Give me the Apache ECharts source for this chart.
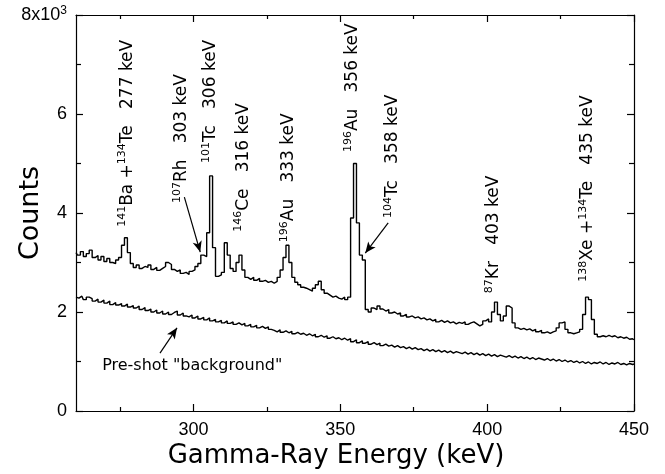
<!DOCTYPE html>
<html>
<head>
<meta charset="utf-8">
<script src="https://cdn.jsdelivr.net/npm/echarts@6/dist/echarts.min.js"></script>
<style>
  html, body { margin: 0; padding: 0; background: #fff; }
  #chart { width: 665px; height: 474px; }
</style>
</head>
<body>
<div id="chart"></div>
<script>
// spectrum channels are 1 keV wide, first channel at 260 keV
const firstChannelKeV = 260;

// counts (x10^3) after the shot
const shotCounts = [
  3.20, 3.15, 3.22, 3.12, 3.18, 3.25, 3.10, 3.14, 3.05, 3.12, // 260
  3.02, 3.08, 3.00, 2.98, 3.05, 3.10, 3.35, 3.50, 3.20, 2.98, // 270
  2.90, 2.95, 2.88, 2.92, 2.90, 2.95, 2.86, 2.90, 2.84, 2.88, // 280
  2.92, 3.00, 2.96, 2.86, 2.82, 2.85, 2.78, 2.80, 2.76, 2.82, // 290
  2.85, 2.92, 2.98, 3.15, 3.12, 3.60, 4.75, 3.30, 2.72, 2.75, // 300
  2.80, 3.40, 3.15, 2.88, 2.82, 3.00, 3.15, 2.85, 2.70, 2.66, // 310
  2.70, 2.64, 2.68, 2.62, 2.64, 2.60, 2.62, 2.58, 2.62, 2.70, // 320
  2.85, 3.10, 3.35, 3.00, 2.70, 2.60, 2.55, 2.50, 2.48, 2.45, // 330
  2.42, 2.48, 2.55, 2.62, 2.45, 2.38, 2.34, 2.30, 2.32, 2.28, // 340
  2.26, 2.30, 2.25, 2.30, 3.90, 5.00, 3.80, 3.15, 3.05, 2.05, // 350
  2.00, 2.08, 2.05, 2.12, 2.06, 2.02, 2.05, 1.98, 2.00, 1.96, // 360
  1.98, 1.92, 1.95, 1.90, 1.92, 1.88, 1.90, 1.86, 1.88, 1.84, // 370
  1.86, 1.82, 1.85, 1.80, 1.83, 1.79, 1.82, 1.78, 1.80, 1.76, // 380
  1.79, 1.77, 1.80, 1.75, 1.78, 1.80, 1.76, 1.72, 1.75, 1.82, // 390
  1.86, 1.80, 2.00, 2.20, 1.95, 1.82, 1.92, 2.12, 2.08, 1.78, // 400
  1.68, 1.65, 1.67, 1.64, 1.66, 1.62, 1.65, 1.60, 1.63, 1.58, // 410
  1.60, 1.57, 1.60, 1.62, 1.68, 1.78, 1.80, 1.65, 1.58, 1.56, // 420
  1.58, 1.60, 1.65, 1.95, 2.30, 2.25, 1.85, 1.55, 1.50, 1.52, // 430
  1.50, 1.53, 1.50, 1.52, 1.48, 1.50, 1.47, 1.49, 1.45, 1.46, // 440
  1.44                                                          // 450
];

// counts (x10^3) of the pre-shot background
const backgroundCounts = [
  2.30, 2.28, 2.32, 2.25, 2.30, 2.27, 2.22, 2.26, 2.20, 2.24, // 260
  2.18, 2.22, 2.15, 2.19, 2.14, 2.17, 2.12, 2.16, 2.10, 2.13, // 270
  2.08, 2.12, 2.05, 2.09, 2.03, 2.06, 2.00, 2.04, 1.98, 2.02, // 280
  1.96, 2.00, 1.95, 1.99, 2.02, 1.94, 1.98, 1.92, 1.90, 1.94, // 290
  1.88, 1.92, 1.86, 1.89, 1.84, 1.88, 1.82, 1.85, 1.80, 1.83, // 300
  1.78, 1.82, 1.77, 1.80, 1.75, 1.78, 1.74, 1.77, 1.72, 1.75, // 310
  1.70, 1.73, 1.68, 1.71, 1.67, 1.70, 1.65, 1.63, 1.60, 1.64, // 320
  1.59, 1.62, 1.58, 1.61, 1.56, 1.59, 1.55, 1.57, 1.53, 1.56, // 330
  1.52, 1.55, 1.50, 1.53, 1.49, 1.52, 1.47, 1.50, 1.46, 1.48, // 340
  1.44, 1.47, 1.43, 1.46, 1.40, 1.44, 1.38, 1.42, 1.37, 1.40, // 350
  1.35, 1.38, 1.34, 1.37, 1.32, 1.35, 1.31, 1.33, 1.29, 1.32, // 360
  1.28, 1.30, 1.26, 1.29, 1.25, 1.28, 1.24, 1.26, 1.22, 1.25, // 370
  1.21, 1.24, 1.20, 1.23, 1.19, 1.22, 1.18, 1.21, 1.17, 1.20, // 380
  1.18, 1.16, 1.19, 1.15, 1.18, 1.14, 1.17, 1.13, 1.16, 1.12, // 390
  1.15, 1.11, 1.14, 1.10, 1.13, 1.11, 1.09, 1.12, 1.08, 1.11, // 400
  1.07, 1.10, 1.06, 1.09, 1.05, 1.08, 1.04, 1.07, 1.05, 1.03, // 410
  1.06, 1.02, 1.05, 1.01, 1.04, 1.00, 1.03, 0.99, 1.02, 0.98, // 420
  1.01, 0.97, 1.00, 0.96, 0.99, 0.95, 0.98, 0.96, 0.99, 0.95, // 430
  0.98, 0.94, 0.97, 0.95, 0.98, 0.94, 0.96, 0.93, 0.96, 0.94, // 440
  0.95                                                          // 450
];

const xMajorTicks = [300, 350, 400, 450];
const xMinorTicks = [275, 325, 375, 425];

// peak identifications, {s|..} is the mass number
const peakLabels = [
  '{s|141}Ba +{s|134}Te   277 keV',
  '{s|107}Rh   303 keV',
  '{s|101}Tc   306 keV',
  '{s|146}Ce   316 keV',
  '{s|196}Au   333 keV',
  '{s|196}Au   356 keV',
  '{s|104}Tc   358 keV',
  '{s|87}Kr   403 keV',
  '{s|138}Xe +{s|134}Te   435 keV'
];
// where each label starts (keV, counts x10^3)
const peakLabelAt = [
  [277.4, 3.72], [296.1, 4.20], [305.7, 5.01], [316.9, 3.62], [332.3, 3.41],
  [354.1, 5.23], [367.7, 3.90], [402.1, 2.38], [434.2, 2.61]
];
const arrows = [
  [[296.9, 4.32], [302.3, 3.21]],
  [[366.3, 3.80], [358.5, 3.19]],
  [[288.6, 1.17], [294.4, 1.68]]
];
const backgroundNote = 'Pre-shot "background"';
const backgroundNoteAt = [268.9, 0.91];

const toPairs = (counts) => counts.map((c, i) => [firstChannelKeV + i, c]);

const chart = echarts.init(document.getElementById('chart'), null, { renderer: 'canvas' });

const tickFont = { color: '#000', fontSize: 18, fontFamily: 'Liberation Sans, Arial, sans-serif' };
const black = { color: '#000', width: 1.2 };

const xBase = { type: 'value', min: 260, max: 450, splitLine: { show: false } };
const yBase = { type: 'value', min: 0, max: 8, interval: 2, splitLine: { show: false } };

const option = {
  backgroundColor: '#fff',
  animation: false,
  grid: { left: 76, right: 31, top: 15, bottom: 63, containLabel: false, outerBoundsMode: 'none' },
  xAxis: [
    {
      ...xBase, position: 'bottom',
      axisLine: { lineStyle: black },
      axisTick: { show: true, inside: true, length: 7, customValues: xMajorTicks, lineStyle: black },
      axisLabel: { customValues: xMajorTicks, margin: 10, ...tickFont },
      name: 'Gamma-Ray Energy (keV)',
      nameLocation: 'middle',
      nameGap: 32,
      nameMoveOverlap: false,
      nameTextStyle: { color: '#000', fontSize: 26, fontFamily: 'DejaVu Sans, sans-serif', padding: [0, 38, 0, 0] }
    },
    {
      ...xBase, position: 'bottom',
      axisLine: { show: false },
      axisTick: { show: true, inside: true, length: 4, customValues: xMinorTicks, lineStyle: black },
      axisLabel: { show: false }
    },
    {
      ...xBase, position: 'top',
      axisLine: { lineStyle: black },
      axisTick: { show: true, inside: true, length: 7, customValues: xMajorTicks, lineStyle: black },
      axisLabel: { show: false }
    },
    {
      ...xBase, position: 'top',
      axisLine: { show: false },
      axisTick: { show: true, inside: true, length: 4, customValues: xMinorTicks, lineStyle: black },
      axisLabel: { show: false }
    }
  ],
  yAxis: [
    {
      ...yBase, position: 'left',
      axisLine: { show: true, lineStyle: black },
      axisTick: { show: true, inside: true, length: 7, lineStyle: black },
      minorTick: { show: true, splitNumber: 2, length: 5, lineStyle: black },
      axisLabel: {
        margin: 9,
        ...tickFont,
        formatter: (v) => (v === 8 ? '8x10{sup|3}' : String(v)),
        rich: {
          sup: { fontSize: 12, fontFamily: 'Liberation Sans, Arial, sans-serif', color: '#000', verticalAlign: 'top', lineHeight: 20 }
        }
      },
      name: 'Counts',
      nameLocation: 'middle',
      nameGap: 32,
      nameMoveOverlap: false,
      nameTextStyle: { color: '#000', fontSize: 27, fontFamily: 'DejaVu Sans, sans-serif' }
    },
    {
      ...yBase, position: 'right',
      axisLine: { show: true, lineStyle: black },
      axisTick: { show: true, inside: true, length: 7, lineStyle: black },
      minorTick: { show: true, splitNumber: 2, length: 5, lineStyle: black },
      axisLabel: { show: false }
    }
  ],
  series: [
    {
      name: 'shot',
      type: 'line',
      step: 'middle',
      showSymbol: false,
      symbol: 'none',
      clip: true,
      data: toPairs(shotCounts),
      lineStyle: { color: '#000', width: 1.4 },
      markLine: {
        silent: true,
        symbol: ['none', 'arrow'],
        symbolSize: [7, 11],
        label: { show: false },
        lineStyle: { color: '#000', width: 1.2, type: 'solid' },
        data: arrows.map(([a, b]) => [{ coord: a }, { coord: b }])
      }
    },
    {
      name: 'background',
      type: 'line',
      step: 'middle',
      showSymbol: false,
      symbol: 'none',
      clip: true,
      data: toPairs(backgroundCounts),
      lineStyle: { color: '#000', width: 1.4 }
    }
  ]
};

chart.setOption(option);

// annotations placed from data coordinates
const labelFont = 'DejaVu Sans, sans-serif';
const graphics = peakLabels.map((text, i) => {
  const [px, py] = chart.convertToPixel({ xAxisIndex: 0, yAxisIndex: 0 }, peakLabelAt[i]);
  return {
    type: 'text',
    x: px,
    y: py,
    rotation: Math.PI / 2,
    silent: true,
    style: {
      text: text,
      fill: '#000',
      fontSize: 17,
      fontFamily: labelFont,
      align: 'left',
      verticalAlign: 'middle',
      lineHeight: 20,
      rich: {
        s: { fontSize: 11, fontFamily: labelFont, fill: '#000', verticalAlign: 'top', lineHeight: 20 }
      }
    }
  };
});
const [nx, ny] = chart.convertToPixel({ xAxisIndex: 0, yAxisIndex: 0 }, backgroundNoteAt);
graphics.push({
  type: 'text',
  x: nx,
  y: ny,
  silent: true,
  style: {
    text: backgroundNote,
    fill: '#000',
    fontSize: 16,
    fontFamily: labelFont,
    align: 'left',
    verticalAlign: 'middle'
  }
});
chart.setOption({ graphic: graphics });
</script>
</body>
</html>
